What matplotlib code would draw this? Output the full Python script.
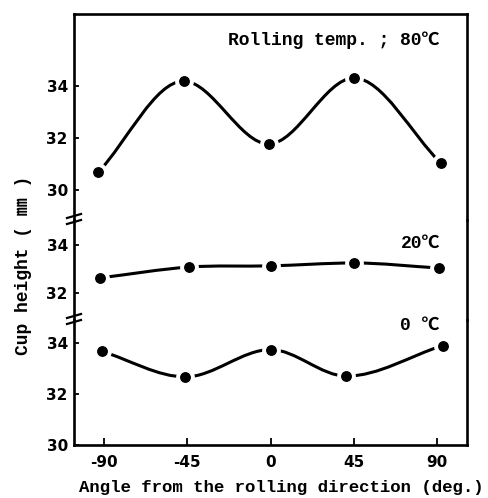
import matplotlib
matplotlib.use('Agg')
import matplotlib.pyplot as plt
from matplotlib.path import Path
from matplotlib.patches import PathPatch
from matplotlib.lines import Line2D

# ---- data ----
angles_80 = [-93, -47, -1, 45, 92]
height_80 = [30.69, 34.19, 31.77, 34.31, 31.04]
angles_20 = [-92, -44, 0, 45, 91]
height_20 = [32.63, 33.08, 33.13, 33.25, 33.04]
angles_0 = [-91, -46, 0, 41, 93]
height_0 = [33.67, 32.67, 33.74, 32.70, 33.90]

xticks = [-90, -45, 0, 45, 90]
yticks_top = [30, 32, 34]
yticks_mid = [32, 34]
yticks_bot = [30, 32, 34]

label_80 = "Rolling temp. ; 80℃"
label_20 = "20℃"
label_0 = "0 ℃"
xlabel = "Angle from the rolling direction (deg.)"
ylabel = "Cup height ( ㎜ )"

TXT = ['Liberation Mono', 'Noto Sans CJK JP']
TCK = ['DejaVu Sans', 'Noto Sans CJK JP']
plt.rcParams['font.family'] = TXT

W, H = 488, 498
fig = plt.figure(figsize=(W / 100, H / 100), dpi=100)


def fx(px):
    return px / W


def fy(py):
    return 1 - py / H


L, R = 74, 467
seg = [(14, 220), (220, 320), (320, 445)]  # top, mid, bottom in pixel rows
ylims = [(28.85, 36.77), (30.875, 35.04), (30.0, 34.9)]
ax_list = []
for (t, b), yl in zip(seg, ylims):
    ax = fig.add_axes([fx(L), fy(b), fx(R) - fx(L), (b - t) / H])
    ax.set_xlim(-106.2, 106.2)
    ax.set_ylim(*yl)
    ax.set_facecolor('none')
    for s in ax.spines.values():
        s.set_linewidth(1.9)
    ax.tick_params(axis='y', direction='in', length=3.6, width=1.3,
                   pad=4.5)
    ax.tick_params(axis='x', direction='in', length=5, width=1.3,
                   pad=7.5)
    ax_list.append(ax)

ax_top, ax_mid, ax_bot = ax_list
ax_top.spines['bottom'].set_visible(False)
ax_mid.spines['bottom'].set_visible(False)
ax_mid.spines['top'].set_visible(False)
ax_bot.spines['top'].set_visible(False)
for ax in (ax_top, ax_mid):
    ax.set_xticks([])
ax_bot.set_xticks(xticks)
ax_bot.set_xticklabels([str(v) for v in xticks], family=TCK,
                       fontweight='bold', fontsize=11)
for ax, yt in ((ax_top, yticks_top), (ax_mid, yticks_mid),
               (ax_bot, yticks_bot)):
    ax.set_yticks(yt)
    ax.set_yticklabels([str(v) for v in yt], family=TCK,
                       fontweight='bold', fontsize=11)


def smooth_path(xs, ys):
    n = len(xs)
    m = []
    for i in range(n):
        if i == 0:
            m.append((ys[1] - ys[0]) / (xs[1] - xs[0]))
        elif i == n - 1:
            m.append((ys[-1] - ys[-2]) / (xs[-1] - xs[-2]))
        elif (ys[i] - ys[i - 1]) * (ys[i + 1] - ys[i]) <= 0:
            m.append(0.0)
        else:
            m.append((ys[i + 1] - ys[i - 1]) / (xs[i + 1] - xs[i - 1]))
    verts = [(xs[0], ys[0])]
    codes = [Path.MOVETO]
    for i in range(n - 1):
        dx = xs[i + 1] - xs[i]
        verts += [(xs[i] + dx / 3, ys[i] + m[i] * dx / 3),
                  (xs[i + 1] - dx / 3, ys[i + 1] - m[i + 1] * dx / 3),
                  (xs[i + 1], ys[i + 1])]
        codes += [Path.CURVE4] * 3
    return Path(verts, codes)


for ax, xs, ys in ((ax_top, angles_80, height_80),
                   (ax_mid, angles_20, height_20),
                   (ax_bot, angles_0, height_0)):
    ax.add_patch(PathPatch(smooth_path(xs, ys), facecolor='none',
                           edgecolor='black', lw=2.2, zorder=2,
                           capstyle='round'))
    ax.plot(xs, ys, 'o', color='white', ms=12.5, zorder=3, clip_on=False)
    ax.plot(xs, ys, 'o', color='black', ms=6.8, zorder=4, clip_on=False)

# break marks on the left spine
for yb in (220, 320):
    for d in (-2, 4):
        fig.add_artist(Line2D([fx(67), fx(81)], [fy(yb + d), fy(yb + d - 4)],
                              transform=fig.transFigure, color='black',
                              lw=1.6))

fig.text(fx(440), fy(40), label_80, ha='right', va='center', fontsize=13,
         fontweight='bold')
fig.text(fx(440), fy(243), label_20, ha='right', va='center', fontsize=13,
         fontweight='bold')
fig.text(fx(440), fy(325), label_0, ha='right', va='center', fontsize=13,
         fontweight='bold')
fig.text(fx(281), fy(487), xlabel, ha='center', va='center', fontsize=12.5,
         fontweight='bold')
fig.text(fx(24), fy(265), ylabel, ha='center', va='center', rotation=90,
         fontsize=13, fontweight='bold')

fig.savefig('out.png', dpi=100)
